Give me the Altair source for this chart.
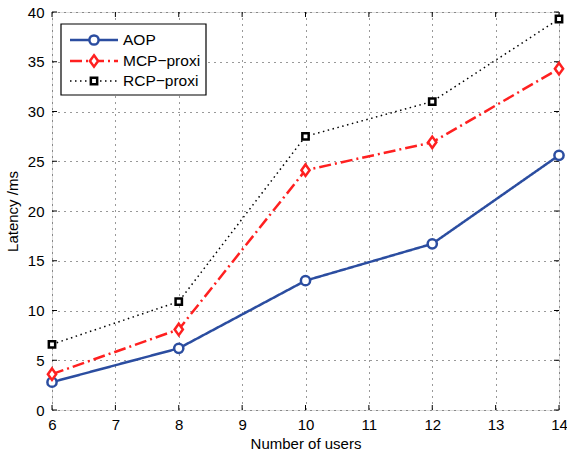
import altair as alt
import pandas as pd

users = [6, 8, 10, 12, 14]
series_names = ["AOP", "MCP\u2212proxi", "RCP\u2212proxi"]
aop = [2.8, 6.2, 13.0, 16.7, 25.6]
mcp = [3.6, 8.1, 24.1, 26.9, 34.3]
rcp = [6.6, 10.9, 27.5, 31.0, 39.3]
series_values = [aop, mcp, rcp]
x_ticks = [6, 7, 8, 9, 10, 11, 12, 13, 14]
y_ticks = [0, 5, 10, 15, 20, 25, 30, 35, 40]

W, H = 507, 398
FONT = "Liberation Sans"
colors = ["#2B4DA0", "#FF2020", "#000000"]
dashes = [[1, 0], [12, 4, 2, 4], [1.5, 3.5]]
widths = [2.5, 2.5, 1.5]
shapes = ["circle", "M0,-1L0.72,0L0,1L-0.72,0Z", "square"]
sizes = [85, 130, 40]
mwidths = [2.5, 2.5, 2.5]

xs = alt.Scale(domain=[6, 14], nice=False, zero=False)
ys = alt.Scale(domain=[0, 40], nice=False, zero=False)

xaxis = alt.Axis(values=x_ticks, title="Number of users", grid=True,
                 gridDash=[1, 5], gridColor="#333", gridWidth=1, ticks=False, domain=False,
                 labelFontSize=15, titleFontSize=15, labelFont=FONT, titleFont=FONT,
                 labelColor="black", titleColor="black", titleFontWeight="normal",
                 labelPadding=7, titlePadding=4, labelFlush=False)
yaxis = alt.Axis(values=y_ticks, title="Latency /ms", grid=True,
                 gridDash=[1, 5], gridColor="#333", gridWidth=1, ticks=False, domain=False,
                 labelFontSize=15, titleFontSize=15, labelFont=FONT, titleFont=FONT,
                 labelColor="black", titleColor="black", titleFontWeight="normal",
                 labelPadding=8, titlePadding=7, labelFlush=False)

def X(f):
    return alt.X(f, scale=xs, axis=xaxis, title="Number of users")

def Y(f):
    return alt.Y(f, scale=ys, axis=yaxis, title="Latency /ms")

layers = []

# inward ticks
xt = pd.DataFrame({"tx": x_ticks})
yt = pd.DataFrame({"ty": y_ticks})
tick_style = dict(color="black", strokeWidth=1)
layers.append(alt.Chart(xt).mark_rule(**tick_style).encode(
    x=X("tx:Q"), y=alt.value(H), y2=alt.value(H - 5)))
layers.append(alt.Chart(xt).mark_rule(**tick_style).encode(
    x=X("tx:Q"), y=alt.value(0), y2=alt.value(5)))
layers.append(alt.Chart(yt).mark_rule(**tick_style).encode(
    y=Y("ty:Q"), x=alt.value(0), x2=alt.value(5)))
layers.append(alt.Chart(yt).mark_rule(**tick_style).encode(
    y=Y("ty:Q"), x=alt.value(W), x2=alt.value(W - 5)))

# series
for i, name in enumerate(series_names):
    df = pd.DataFrame({"users": users, "latency": series_values[i]})
    layers.append(alt.Chart(df).mark_line(color=colors[i], strokeWidth=widths[i],
                                          strokeDash=dashes[i]).encode(
        x=X("users:Q"), y=Y("latency:Q")))
for i, name in enumerate(series_names):
    df = pd.DataFrame({"users": users, "latency": series_values[i]})
    layers.append(alt.Chart(df).mark_point(shape=shapes[i], size=sizes[i], filled=False,
                                           fill="white", fillOpacity=1, stroke=colors[i],
                                           strokeWidth=mwidths[i], opacity=1).encode(
        x=X("users:Q"), y=Y("latency:Q")))

# legend box
box_df = pd.DataFrame({"k": [0]})
layers.append(alt.Chart(box_df).mark_rect(fill="white", stroke="black", strokeWidth=1.2).encode(
    x=alt.value(9), x2=alt.value(154), y=alt.value(12), y2=alt.value(83)))
leg_y = [28, 49, 69]
for i, name in enumerate(series_names):
    ldf = pd.DataFrame({"s": [name]})
    layers.append(alt.Chart(ldf).mark_rule(color=colors[i], strokeWidth=widths[i],
                                           strokeDash=dashes[i]).encode(
        x=alt.value(18), x2=alt.value(66), y=alt.value(leg_y[i])))
    layers.append(alt.Chart(ldf).mark_point(shape=shapes[i], size=sizes[i], filled=False,
                                            fill="white", fillOpacity=1, stroke=colors[i],
                                            strokeWidth=mwidths[i], opacity=1).encode(
        x=alt.value(42), y=alt.value(leg_y[i])))
    layers.append(alt.Chart(ldf).mark_text(align="left", baseline="middle", font=FONT,
                                           fontSize=15.5, color="black").encode(
        x=alt.value(71), y=alt.value(leg_y[i]), text="s:N"))

chart = alt.layer(*layers).properties(
    width=W, height=H,
    autosize=alt.AutoSizeParams(type="none"),
    padding={"left": 52, "top": 12, "right": 8, "bottom": 44},
).configure_view(stroke="black", strokeWidth=1.5).configure(background="white")

chart.save("out.html", embed_options={"renderer": "svg", "actions": False})
